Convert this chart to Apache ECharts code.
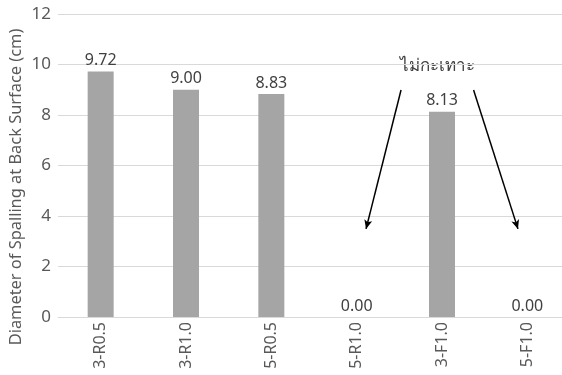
<!DOCTYPE html>
<html>
<head>
<meta charset="utf-8">
<script src="https://cdn.jsdelivr.net/npm/echarts@6/dist/echarts.min.js"></script>
<style>
  html, body { margin: 0; padding: 0; background: #fff; }
  #main { width: 562px; height: 375px; }
</style>
</head>
<body>
<div id="main"></div>
<script>
// ข้อมูล
var specimens = ['3-R0.5', '3-R1.0', '5-R0.5', '5-R1.0', '3-F1.0', '5-F1.0'];
var spallDia = [9.72, 9.00, 8.83, 0.00, 8.13, 0.00];
var yTicks = [0, 2, 4, 6, 8, 10, 12];
var yTitle = 'Diameter of Spalling at Back Surface (cm)';
var noteText = 'ไม่กะเทาะ';
// ลูกศรชี้ไปที่ 5-R1.0 และ 5-F1.0 (หน่วยของแกน: ตำแหน่งหมวด, ค่า cm)
var arrowFrom = [[4.02, 8.99], [4.87, 8.99]];
var arrowTo = [[3.61, 3.49], [5.39, 3.49]];

var font = '"Noto Sans", "DejaVu Sans", sans-serif';

var arrows = [];
for (var i = 0; i < arrowFrom.length; i++) {
    arrows.push([{ coord: arrowFrom[i] }, { coord: arrowTo[i] }]);
}

var chart = echarts.init(document.getElementById('main'));
var opt = {
    animation: false,
    grid: {
        left: 58,
        right: -8,
        top: 14,
        bottom: 58,
        containLabel: false,
        outerBoundsMode: 'none'
    },
    xAxis: [{
        type: 'category',
        data: specimens,
        axisLine: { lineStyle: { color: '#d9d9d9' } },
        axisTick: { show: false },
        axisLabel: {
            rotate: 90,
            color: '#595959',
            fontSize: 16,
            fontFamily: font,
            margin: 5
        }
    }, {
        type: 'value',
        min: 0,
        max: 6,
        show: false
    }],
    yAxis: {
        type: 'value',
        min: yTicks[0],
        max: yTicks[yTicks.length - 1],
        interval: 2,
        axisLine: { show: false },
        axisTick: { show: false },
        axisLabel: { color: '#595959', fontSize: 17, fontFamily: font, margin: 7 },
        splitLine: { lineStyle: { color: '#d9d9d9' } }
    },
    series: [{
        type: 'bar',
        data: spallDia,
        barWidth: 26,
        itemStyle: { color: '#a5a5a5' },
        label: {
            show: true,
            position: 'top',
            distance: 3,
            color: '#404040',
            fontSize: 16,
            fontFamily: font,
            formatter: function (p) { return p.value.toFixed(2); }
        }
    }, {
        type: 'scatter',
        xAxisIndex: 1,
        data: [],
        markLine: {
            silent: true,
            symbol: ['none', 'arrow'],
            symbolSize: [6, 9],
            label: { show: false },
            lineStyle: { color: '#000', width: 1.5, type: 'solid' },
            data: arrows
        }
    }],
    graphic: [{
        type: 'text',
        x: 437,
        y: 66,
        style: {
            text: noteText,
            fill: '#404040',
            fontSize: 17,
            fontFamily: font,
            align: 'center',
            verticalAlign: 'middle'
        }
    }, {
        // ชื่อแกน y
        type: 'text',
        x: 16,
        y: 187,
        rotation: Math.PI / 2,
        style: {
            text: yTitle,
            fill: '#595959',
            fontSize: 16.4,
            fontFamily: font,
            align: 'center',
            verticalAlign: 'middle'
        }
    }]
};
chart.setOption(opt);
</script>
</body>
</html>
